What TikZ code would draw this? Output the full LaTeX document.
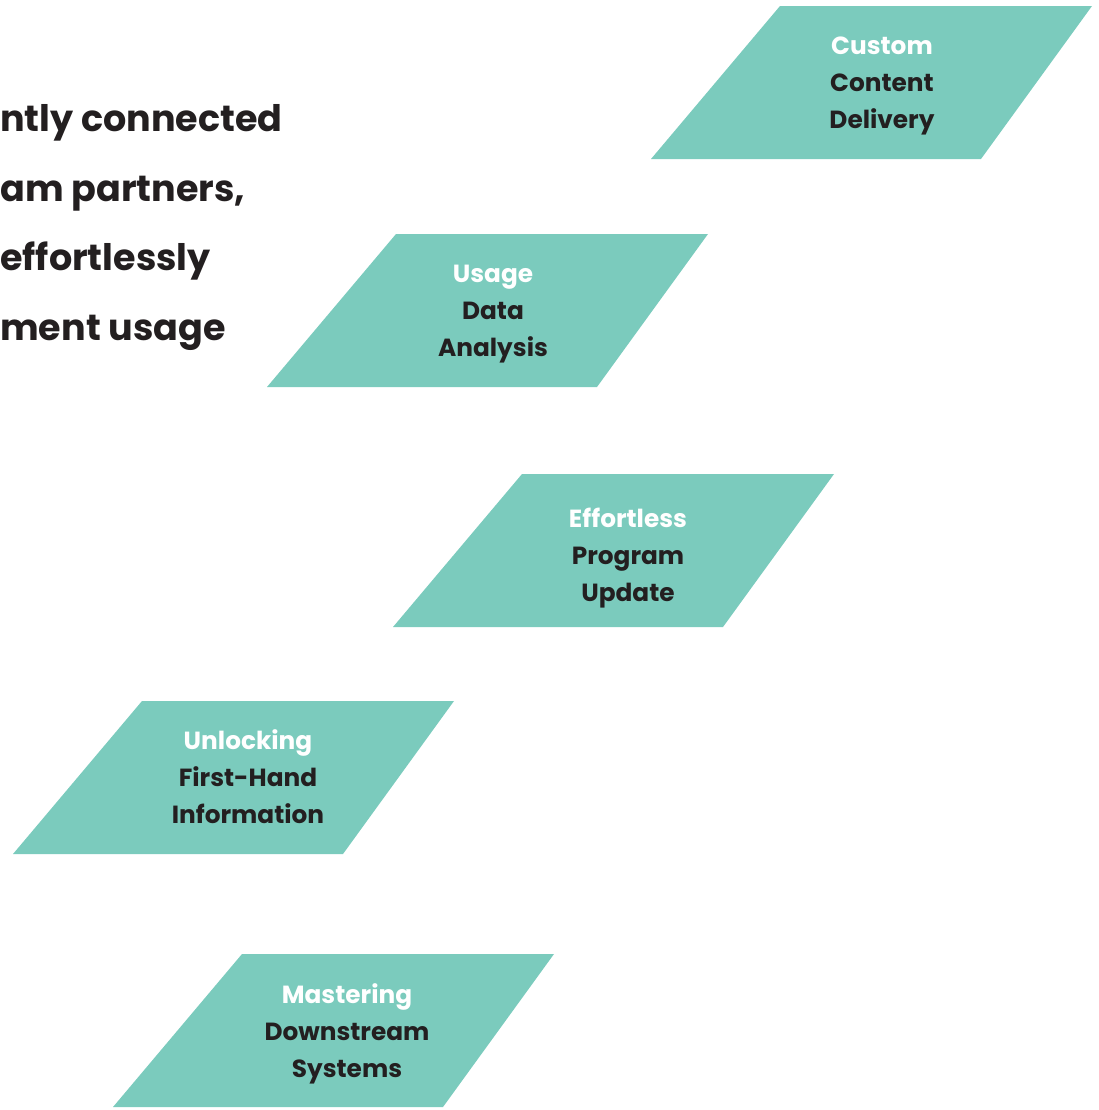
\documentclass[tikz,border=0pt]{standalone}
\usepackage{fontspec}
\setmainfont{Poppins}
\usetikzlibrary{positioning}

\definecolor{slabgreen}{HTML}{7BCBBD}
\definecolor{inkdark}{HTML}{231F20}

\begin{document}
\begin{tikzpicture}[x=0.75pt,y=-0.75pt,
  slab/.style={fill=slabgreen},
  step text/.style={anchor=base,align=center,text=inkdark,
    font=\bfseries\fontsize{18.6}{27.6}\selectfont},
  intro/.style={anchor=base west,text=inkdark,inner sep=0pt,
    font=\bfseries\fontsize{27.4}{36}\selectfont}]

  \useasboundingbox (0,0) rectangle (1099,1110);

  % intro text at the left edge
  \node[intro] (line1) at (0,131.7) {ntly connected};
  \node[intro] (line2) at (0,201.7) {am partners,};
  \node[intro] (line3) at (0,270.5) {effortlessly};
  \node[intro] (line4) at (0,340) {ment usage};

  % the five steps
  \fill[slab] (780,6) -- ++(312,0) -- ++(-111,153) -- ++(-330,0) -- cycle;
  \fill[slab] (396,234) -- ++(312,0) -- ++(-111,153) -- ++(-330,0) -- cycle;
  \fill[slab] (522,474) -- ++(312,0) -- ++(-111,153) -- ++(-330,0) -- cycle;
  \fill[slab] (142,701) -- ++(312,0) -- ++(-111,153) -- ++(-330,0) -- cycle;
  \fill[slab] (242,954) -- ++(312,0) -- ++(-111,153) -- ++(-330,0) -- cycle;

  \node[step text] (custom) at (882,128) {\textcolor{white}{Custom}\\Content\\Delivery};
  \node[step text] (usage) at (493,356) {\textcolor{white}{Usage}\\Data\\Analysis};
  \node[step text] (update) at (628,601) {\textcolor{white}{Effortless}\\Program\\Update};
  \node[step text] (firsthand) at (248,823) {\textcolor{white}{Unlocking}\\First-Hand\\Information};
  \node[step text] (downstream) at (347,1077) {\textcolor{white}{Mastering}\\Downstream\\Systems};
\end{tikzpicture}
\end{document}
